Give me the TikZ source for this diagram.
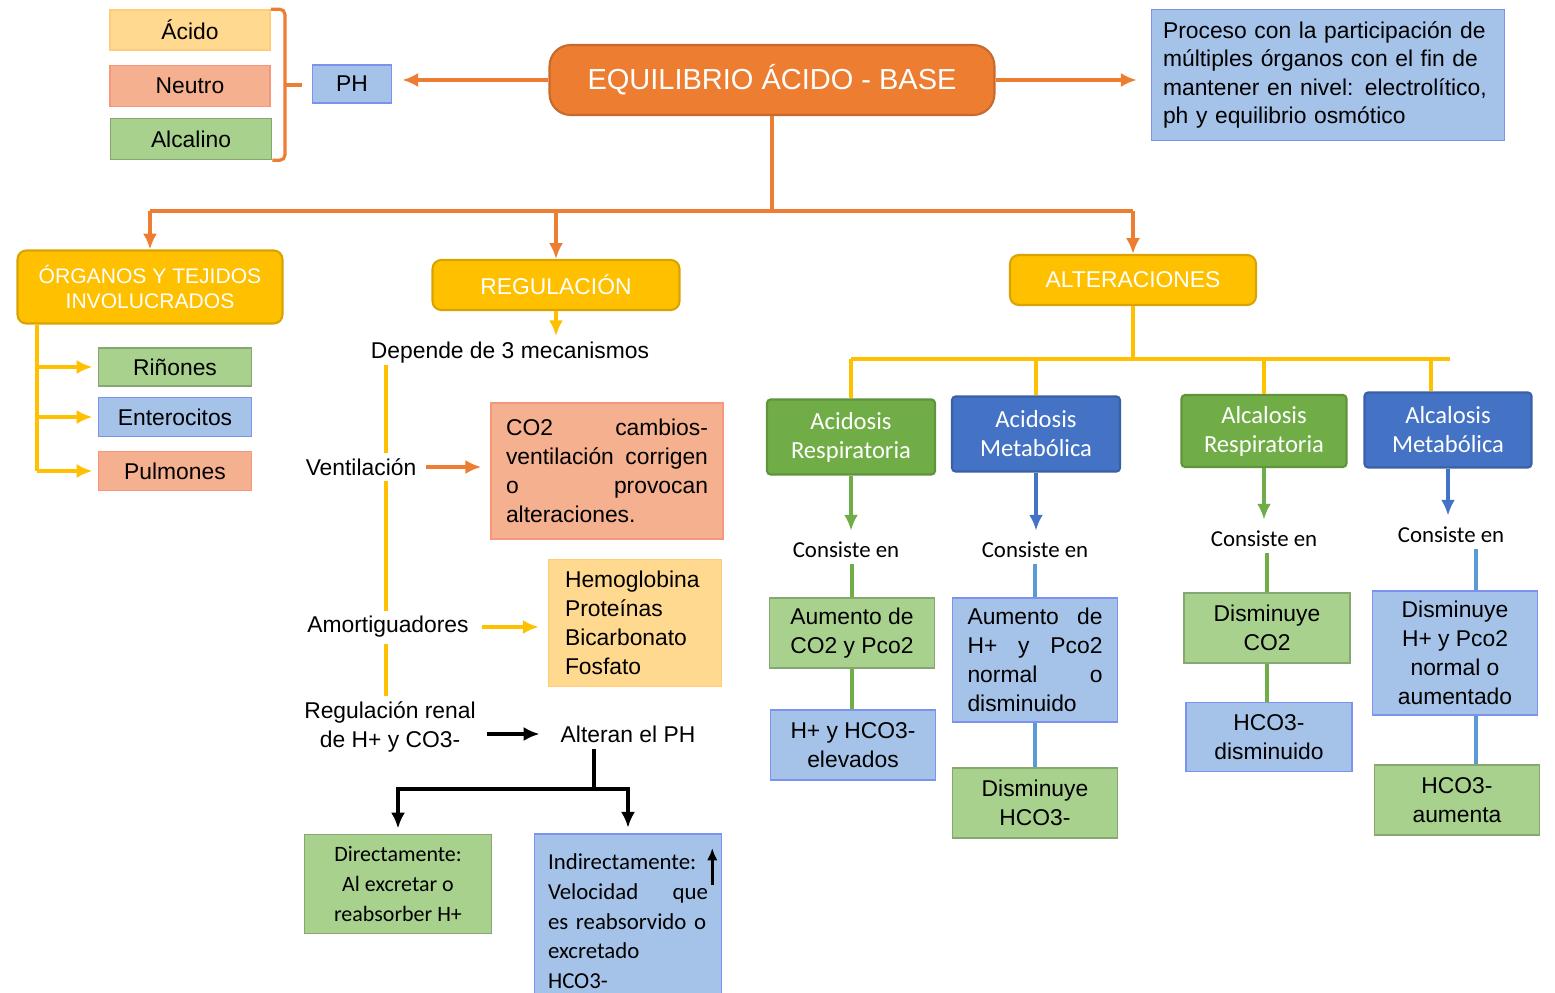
\documentclass[tikz,border=0pt]{standalone}
\usepackage{fontspec}
\setmainfont{Liberation Sans}
\newfontfamily\calibri{Carlito}
\usetikzlibrary{arrows.meta,positioning,backgrounds}

\definecolor{naranja}{HTML}{ED7D31}
\definecolor{amarillo}{HTML}{FFC000}
\definecolor{durazno}{HTML}{FFD98F}
\definecolor{salmon}{HTML}{F4B08F}
\definecolor{verdecl}{HTML}{A9D18E}
\definecolor{azulcl}{HTML}{A5C3E8}
\definecolor{verde}{HTML}{70AD47}
\definecolor{azul}{HTML}{4472C4}
\definecolor{azulln}{HTML}{5B9BD5}

\newcommand{\letra}{\fontsize{13}{16.5}\selectfont}
\newcommand{\letrac}{\calibri\fontsize{13}{17}\selectfont}
\newcommand{\esp}{\hskip 0pt plus 1filll\relax}

\tikzset{
  caja/.style={draw, line width=0.9pt, inner sep=2pt, align=center, font=\letra},
  cdurazno/.style={caja, fill=durazno, draw=durazno!85!orange},
  csalmon/.style={caja, fill=salmon, draw=salmon!85!red},
  cverde/.style={caja, fill=verdecl, draw=verdecl!80!black},
  cazul/.style={caja, fill=azulcl, draw=azulcl!75!blue},
  cabecera/.style={draw=#1!85!black, fill=#1, line width=1.2pt, rounded corners=5pt, text=white, align=center},
  etiqueta/.style={align=center, font=\letra},
  flecha/.style={-{Latex[length=9pt,width=8pt]}},
  lnar/.style={draw=naranja, line width=1.8pt},
  lam/.style={draw=amarillo, line width=2.2pt},
  lneg/.style={draw=black, line width=2.3pt},
  lver/.style={draw=verde, line width=1.8pt},
  lazu/.style={draw=azulln, line width=1.8pt},
}

\begin{document}
\begin{tikzpicture}[x=0.02cm, y=-0.02cm]
\useasboundingbox (0,0) rectangle (1555,993);
\clip (0,0) rectangle (1555,993);

% pH
\node (acido) [cdurazno, minimum width=3.2cm, minimum height=0.8cm] at (190,30) {Ácido};
\node (neutro) [csalmon, minimum width=3.2cm, minimum height=0.82cm] at (190,86) {Neutro};
\node (alcalino) [cverde, minimum width=3.22cm, minimum height=0.82cm] at (191,139) {Alcalino};
\node (ph) [cazul, minimum width=1.58cm, minimum height=0.76cm] at (352,84) {PH};

% tema central
\node (equil) [cabecera=naranja, rounded corners=12pt, minimum width=8.9cm, minimum height=1.4cm,
  font=\fontsize{16.5}{20}\selectfont] at (772,80) {EQUILIBRIO ÁCIDO - BASE};
\node (desc) [cazul, minimum width=7.06cm, minimum height=2.62cm, text width=6.6cm, align=left,
  font=\fontsize{13}{16.3}\selectfont] at (1328,75)
  {Proceso con la participación de múltiples órganos con el fin de mantener en nivel: electrolítico, ph y equilibrio osmótico};

\node (organos) [cabecera=amarillo, minimum width=5.3cm, minimum height=1.46cm,
  font=\fontsize{12}{14.7}\selectfont] at (150,287) {ÓRGANOS Y TEJIDOS\\INVOLUCRADOS};
\node (regul) [cabecera=amarillo, minimum width=4.94cm, minimum height=1cm,
  font=\fontsize{13}{16}\selectfont] at (556,285) {REGULACIÓN};
\node (alter) [cabecera=amarillo, minimum width=4.92cm, minimum height=1cm,
  font=\fontsize{13}{16}\selectfont] at (1133,280) {ALTERACIONES};

% organos
\node (rin) [cverde, minimum width=3.06cm, minimum height=0.76cm] at (175,367) {Riñones};
\node (ent) [cazul, minimum width=3.06cm, minimum height=0.78cm] at (175,417) {Enterocitos};
\node (pul) [csalmon, minimum width=3.06cm, minimum height=0.78cm] at (175,471) {Pulmones};

% regulacion
\node (depende) [etiqueta] at (510,353) {Depende de 3 mecanismos};
\node (vent) [etiqueta, fill=white] at (361,467) {Ventilación};
\node (amort) [etiqueta, fill=white] at (388,627) {Amortiguadores};
\node (renal) [etiqueta, fill=white] at (390,727) {Regulación renal\\de H+ y CO3-};
\node (co2) [csalmon, minimum width=4.64cm, minimum height=2.72cm, text width=4.04cm, align=left] at (607,471)
  {CO2\esp cambios-\\ventilación\esp corrigen\\o\esp provocan\\alteraciones.};
\node (hemo) [cdurazno, minimum width=3.46cm, minimum height=2.54cm, text width=2.8cm, align=left] at (635,623)
  {Hemoglobina\\Proteínas\\Bicarbonato\\Fosfato};
\node (alteran) [etiqueta] at (628,734) {Alteran el PH};
\node (direct) [cverde, minimum width=3.74cm, minimum height=1.98cm,
  font=\calibri\fontsize{12.5}{17}\selectfont] at (398,884) {Directamente:\\Al excretar o\\reabsorber H+};
\node (indirect) [cazul, anchor=north, minimum width=3.74cm, minimum height=3.5cm, text width=3.2cm,
  align=left, font=\letrac] at (628,833)
  {Indirectamente:\\Velocidad\esp que\\es reabsorvido o\\excretado\\HCO3-};

% alteraciones
\node (acres) [cabecera=verde, rounded corners=2pt, minimum width=3.36cm, minimum height=1.5cm,
  font=\calibri\fontsize{14}{16.5}\selectfont] at (851,437) {Acidosis\\Respiratoria};
\node (acmet) [cabecera=azul, rounded corners=2pt, minimum width=3.36cm, minimum height=1.5cm,
  font=\calibri\fontsize{14}{16.5}\selectfont] at (1036,434) {Acidosis\\Metabólica};
\node (alres) [cabecera=verde, rounded corners=2pt, minimum width=3.3cm, minimum height=1.44cm,
  font=\calibri\fontsize{14}{16.5}\selectfont] at (1264,431) {Alcalosis\\Respiratoria};
\node (almet) [cabecera=azul, rounded corners=2pt, minimum width=3.34cm, minimum height=1.5cm,
  font=\calibri\fontsize{14}{16.5}\selectfont] at (1448,430) {Alcalosis\\Metabólica};

\node (c1) [etiqueta, font=\letrac] at (846,550) {Consiste en};
\node (c2) [etiqueta, font=\letrac] at (1035,550) {Consiste en};
\node (c3) [etiqueta, font=\letrac] at (1264,539) {Consiste en};
\node (c4) [etiqueta, font=\letrac] at (1451,535) {Consiste en};

\node (b11) [cverde, minimum width=3.3cm, minimum height=1.4cm] at (852,633) {Aumento de\\CO2 y Pco2};
\node (b12) [cazul, minimum width=3.3cm, minimum height=1.4cm] at (853,745) {H+ y HCO3-\\elevados};
\node (b21) [cazul, minimum width=3.3cm, minimum height=2.48cm, text width=2.7cm, align=left] at (1035,660)
  {Aumento\esp de\\H+\esp y\esp Pco2\\normal\esp o\\disminuido};
\node (b22) [cverde, minimum width=3.3cm, minimum height=1.4cm] at (1035,803) {Disminuye\\HCO3-};
\node (b31) [cverde, minimum width=3.32cm, minimum height=1.4cm] at (1267,628) {Disminuye\\CO2};
\node (b32) [cazul, minimum width=3.32cm, minimum height=1.38cm] at (1269,737) {HCO3-\\disminuido};
\node (b41) [cazul, minimum width=3.3cm, minimum height=2.48cm] at (1455,653) {Disminuye\\H+ y Pco2\\normal o\\aumentado};
\node (b42) [cverde, minimum width=3.3cm, minimum height=1.4cm] at (1457,800) {HCO3-\\aumenta};

% conectores
\coordinate (llave) at (285,85);
\draw[lnar, rounded corners=3pt] (acido.north east) -- (llave |- acido.north) -- (llave |- alcalino.south) -- (alcalino.south east);
\draw[lnar] (llave) -- ++(17,0);
\draw[lnar, flecha, shorten >=0.2cm] (equil.west) -- (equil.west -| ph.east);
\draw[lnar, flecha, shorten >=0.28cm] (equil.east) -- (equil.east -| desc.west);

\draw[lnar] (equil.south) -- ++(0,95) coordinate (nudo);
\draw[lnar] (nudo -| organos) -- (nudo -| alter);
\foreach \n in {organos,regul,alter}
  \draw[lnar, flecha] (nudo -| \n) -- (\n.north);

\coordinate (oraiz) at ([xshift=-2.26cm]organos.south);
\draw[lam] (oraiz) -- (oraiz |- pul);
\foreach \n in {rin,ent,pul}
  \draw[lam, flecha, shorten >=3pt] (oraiz |- \n) -- (\n.west);

\draw[lam, flecha] (regul.south) -- (regul.south |- depende.north);
\draw[lnar, flecha, shorten <=2pt, shorten >=0.18cm] (vent.east) -- (vent.east -| co2.west);
\draw[lam, flecha, shorten <=0.14cm, shorten >=0.18cm] (amort.east) -- (amort.east -| hemo.west);
\draw[lneg, flecha, shorten <=0.1cm, shorten >=0.3cm] (renal.east |- alteran) -- (alteran.west);

\coordinate (atallo) at ([xshift=-0.68cm]alteran.south);
\draw[lneg] (atallo) -- ++(0,40) coordinate (abrazo);
\draw[lneg, flecha, shorten >=3pt] (abrazo) -| (direct.north);
\draw[lneg, flecha, shorten >=3pt] (abrazo) -| (indirect.north);
\draw[line width=1.6pt, -{Latex[length=7pt,width=6pt]}] ([xshift=-0.2cm,yshift=-1.04cm]indirect.north east) -- ++(0,0.74cm);

\draw[lam] (alter.south) -- ++(0,53) coordinate (anudo);
\coordinate (caida) at ([xshift=-0.34cm]almet.north);
\draw[lam] (anudo -| acres) -- ([xshift=0.04cm]anudo -| almet);
\foreach \n in {acres,acmet,alres}
  \draw[lam] (anudo -| \n) -- (\n.north);
\draw[lam] (anudo -| caida) -- (caida);

\draw[lver, flecha, shorten >=3pt] (acres.south) -- (acres.south |- c1.north);
\draw[lver] (c1.south -| b11) -- (b11.north);
\draw[lver] (b11.south) -- (b11.south |- b12.north);

\draw[draw=azul, line width=1.8pt, flecha, shorten >=3pt] (acmet.south) -- (acmet.south |- c2.north);
\draw[lazu] (c2.south -| b21) -- (b21.north);
\draw[lazu] (b21.south) -- (b21.south |- b22.north);

\draw[lver, flecha, shorten >=3pt] (alres.south) -- (alres.south |- c3.north);
\draw[lver] (c3.south -| b31) -- (b31.north);
\draw[lver] (b31.south) -- (b31.south |- b32.north);

\draw[draw=azul, line width=1.8pt, flecha, shorten >=3pt] (almet.south) -- (almet.south |- c4.north);
\coordinate (c4x) at ([xshift=0.42cm]b41.north);
\draw[lazu] (c4x |- c4.south) -- (c4x);
\draw[lazu] (c4x |- b41.south) -- (c4x |- b42.north);

\begin{scope}[on background layer]
\fill[white] (0,0) rectangle (1555,993);
\coordinate (espina) at (386,365);
\draw[lam] (espina) -- (espina |- renal.north);
\end{scope}
\end{tikzpicture}
\end{document}
